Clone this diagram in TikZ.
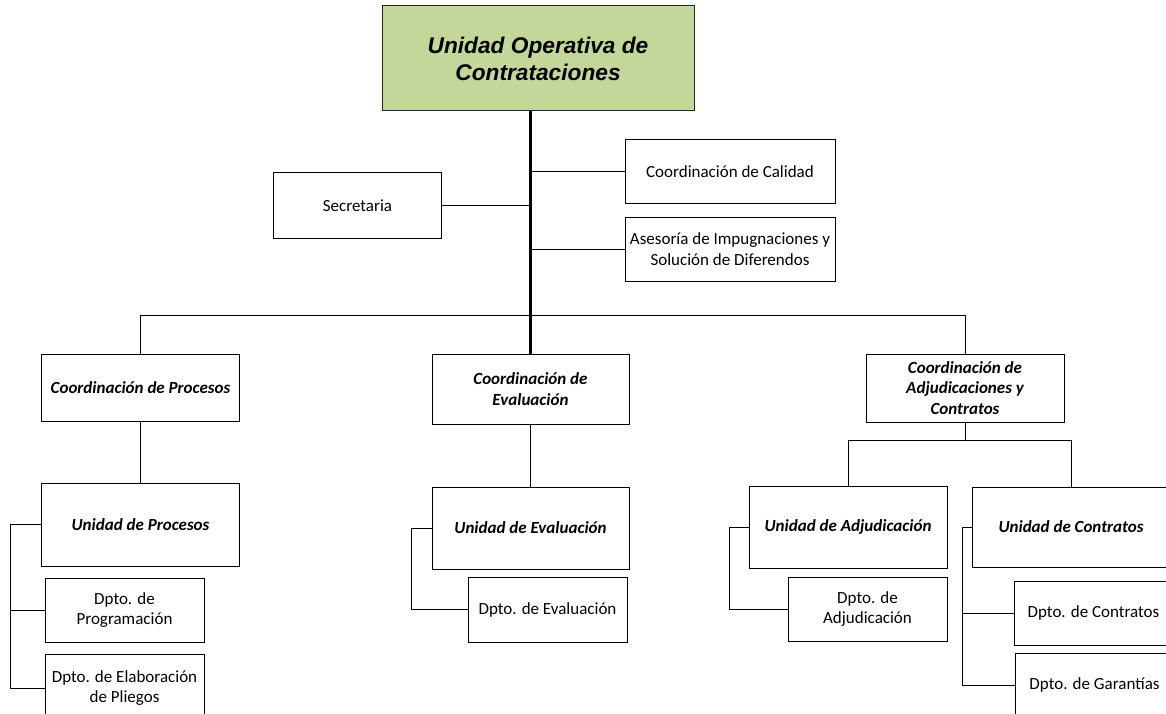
\documentclass[tikz,border=0pt]{standalone}
\usepackage{fontspec}
\setmainfont{Carlito}
\newfontfamily\arialf{Liberation Sans}
\usetikzlibrary{positioning,calc}
\definecolor{uocgreen}{RGB}{196,215,155}
\tikzset{
  obox/.style={draw, fill=white, line width=1pt, align=center, inner sep=2pt,
    font=\fontsize{17}{20.5}\selectfont},
  cbox/.style={obox, font=\fontsize{17}{20.5}\selectfont\bfseries\itshape},
  tbox/.style={obox, fill=uocgreen, draw=black!85,
    font=\arialf\fontsize{22.7}{27}\selectfont\bfseries\itshape},
  lnk/.style={line width=1pt},
  spine/.style={line width=2.6pt},
}

\begin{document}
\begin{tikzpicture}[x=1pt, y=-1pt]
\useasboundingbox (0,0) rectangle (1166,714);
\clip (0,0) rectangle (1166,714);
%---- head and staff
\node[tbox, minimum width=312pt, minimum height=105pt] (uoc) at (538,58.5) {Unidad Operativa de\\Contrataciones};
\node[obox, minimum width=210pt, minimum height=63pt] (cal) at (730,171.5) {Coordinación de Calidad};
\node[obox, minimum width=210pt, minimum height=64pt] (ase) at (730,249) {Asesoría de Impugnaciones y\\Solución de Diferendos};
\node[obox, minimum width=168pt, minimum height=65pt] (sec) at (357.5,205.5) {Secretaria};
%---- coordinations
\node[cbox, minimum width=198pt, minimum height=67pt] (cpr) at (140.5,387.5) {Coordinación de Procesos};
\node[cbox, minimum width=197pt, minimum height=70pt] (cev) at (530.5,389) {Coordinación de\\Evaluación};
\node[cbox, minimum width=198pt, minimum height=68pt] (cad) at (965,388) {Coordinación de\\Adjudicaciones y\\Contratos};
%---- units
\node[cbox, minimum width=198pt, minimum height=83pt] (upr) at (140.5,524.5) {Unidad de Procesos};
\node[cbox, minimum width=197pt, minimum height=82pt] (uev) at (530.5,528) {Unidad de Evaluación};
\node[cbox, minimum width=198pt, minimum height=82pt] (uad) at (848,527) {Unidad de Adjudicación};
\node[cbox, minimum width=198pt, minimum height=80pt] (uco) at (1071,527) {Unidad de Contratos};
%---- departments
\node[obox, minimum width=159pt, minimum height=64pt] (dpg) at (124.5,610) {Dpto. de\\Programación};
\node[obox, minimum width=159pt, minimum height=68pt] (del) at (124.5,688) {Dpto. de Elaboración\\de Pliegos};
\node[obox, minimum width=159pt, minimum height=65pt] (dev) at (547.5,609.5) {Dpto. de Evaluación};
\node[obox, minimum width=159pt, minimum height=64pt] (dad) at (867.5,609) {Dpto. de\\Adjudicación};
\node[obox, minimum width=159pt, minimum height=64pt] (dco) at (1093.5,613) {Dpto. de Contratos};
\node[obox, minimum width=159pt, minimum height=64pt] (dga) at (1094.5,685) {Dpto. de Garantías};
%---- links
\coordinate (bus) at (0,315);
\coordinate (sbus) at (0,440);
\coordinate (kpr) at (10,0);
\coordinate (kev) at (411,0);
\coordinate (kad) at (729,0);
\coordinate (kco) at (962,0);
\draw[spine] (uoc.south -| cev.north) -- (cev.north);
\draw[lnk] (cal.west) -- (cal.west -| cev.north);
\draw[lnk] (ase.west) -- (ase.west -| cev.north);
\draw[lnk] (sec.east) -- (sec.east -| cev.north);
\draw[lnk] (cpr.north) |- (cad.north |- bus) -- (cad.north);
\draw[lnk] (cpr.south) -- (upr.north);
\draw[lnk] (cev.south) -- (uev.north);
\draw[lnk] (cad.south) -- (cad.south |- sbus);
\draw[lnk] (uad.north) |- (uco.north |- sbus) -- (uco.north);
\draw[lnk] (upr.west) -| (kpr |- del.west) -- (del.west);
\draw[lnk] (dpg.west) -- (dpg.west -| kpr);
\draw[lnk] (uev.west) -| (kev |- dev.west) -- (dev.west);
\draw[lnk] (uad.west) -| (kad |- dad.west) -- (dad.west);
\draw[lnk] (uco.west) -| (kco |- dga.west) -- (dga.west);
\draw[lnk] (dco.west) -- (dco.west -| kco);
\end{tikzpicture}
\end{document}
